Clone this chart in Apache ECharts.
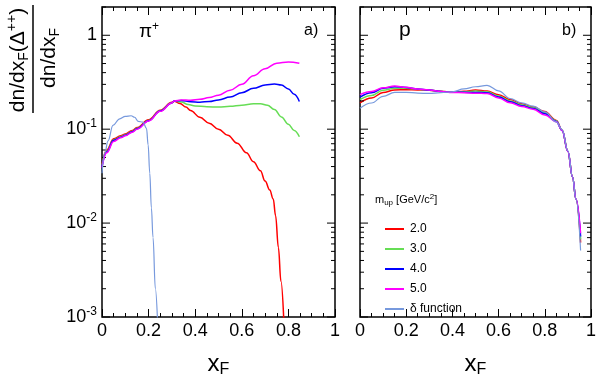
<!DOCTYPE html>
<html><head><meta charset="utf-8">
<script src="https://cdn.jsdelivr.net/npm/echarts@6/dist/echarts.min.js"></script>
<style>html,body{margin:0;padding:0;background:#fff}#c{width:599px;height:383px}</style>
</head><body><div id="c"></div>
<script>
// ---------- data ----------
const seriesNames = ['2.0', '3.0', '4.0', '5.0', 'δ function'];
const seriesColors = ['#ff0000', '#66dd55', '#0000ff', '#ff00ff', '#7799dd'];

// panel a) pi+
const piX_red = [0, 0.02, 0.05, 0.08, 0.1, 0.13, 0.15, 0.2, 0.25, 0.3, 0.31, 0.335, 0.36, 0.38, 0.42, 0.46, 0.5, 0.54, 0.58, 0.62, 0.65, 0.68, 0.7, 0.72, 0.735, 0.745, 0.757, 0.768, 0.78];
const piY_red = [0.042, 0.06, 0.079, 0.085, 0.089, 0.097, 0.104, 0.126, 0.159, 0.193, 0.198, 0.188, 0.172, 0.158, 0.134, 0.116, 0.1, 0.086, 0.071, 0.056, 0.045, 0.036, 0.028, 0.0225, 0.018, 0.012, 0.0055, 0.0024, 0.00095];
const piX_green = [0, 0.02, 0.05, 0.08, 0.1, 0.13, 0.15, 0.2, 0.25, 0.3, 0.31, 0.34, 0.37, 0.4, 0.45, 0.5, 0.55, 0.6, 0.65, 0.68, 0.71, 0.74, 0.77, 0.8, 0.825, 0.847];
const piY_green = [0.041, 0.058, 0.077, 0.083, 0.087, 0.095, 0.102, 0.124, 0.157, 0.191, 0.2, 0.195, 0.183, 0.177, 0.173, 0.172, 0.175, 0.18, 0.186, 0.187, 0.18, 0.162, 0.135, 0.113, 0.097, 0.083];
const piX_blue = [0, 0.02, 0.05, 0.08, 0.1, 0.13, 0.15, 0.2, 0.25, 0.3, 0.31, 0.34, 0.38, 0.42, 0.46, 0.5, 0.55, 0.6, 0.65, 0.7, 0.74, 0.77, 0.8, 0.825, 0.847];
const piY_blue = [0.04, 0.057, 0.076, 0.082, 0.086, 0.094, 0.101, 0.123, 0.156, 0.19, 0.2, 0.202, 0.196, 0.194, 0.197, 0.205, 0.22, 0.245, 0.272, 0.295, 0.302, 0.295, 0.268, 0.235, 0.197];
const piX_mag = [0, 0.02, 0.05, 0.08, 0.1, 0.13, 0.15, 0.2, 0.25, 0.3, 0.31, 0.34, 0.38, 0.42, 0.46, 0.5, 0.55, 0.6, 0.65, 0.7, 0.75, 0.8, 0.847];
const piY_mag = [0.039, 0.056, 0.074, 0.081, 0.085, 0.093, 0.1, 0.122, 0.155, 0.19, 0.2, 0.205, 0.203, 0.208, 0.217, 0.23, 0.26, 0.3, 0.37, 0.44, 0.505, 0.52, 0.503];
const piX_delta = [0, 0.012, 0.026, 0.047, 0.076, 0.1, 0.125, 0.14, 0.155, 0.176, 0.191, 0.198, 0.205, 0.212, 0.219, 0.229, 0.238];
const piY_delta = [0.034, 0.056, 0.075, 0.11, 0.129, 0.137, 0.139, 0.134, 0.121, 0.119, 0.102, 0.068, 0.034, 0.0145, 0.007, 0.002, 0.00095];

// panel b) p
const pX = [0, 0.05, 0.1, 0.15, 0.2, 0.25, 0.3, 0.35, 0.4, 0.45, 0.5, 0.55, 0.6, 0.65, 0.7, 0.75, 0.8, 0.85, 0.875, 0.9, 0.92, 0.935, 0.955];
const pY_red   = [0.191, 0.215, 0.246, 0.262, 0.263, 0.262, 0.26, 0.253, 0.249, 0.253, 0.262, 0.255, 0.233, 0.207, 0.187, 0.172, 0.154, 0.124, 0.098, 0.058, 0.031, 0.018, 0.0062];
const pY_green = [0.207, 0.229, 0.26, 0.272, 0.272, 0.266, 0.26, 0.252, 0.248, 0.25, 0.255, 0.25, 0.226, 0.2, 0.182, 0.169, 0.15, 0.123, 0.097, 0.058, 0.031, 0.018, 0.0067];
const pY_blue  = [0.22, 0.245, 0.272, 0.283, 0.278, 0.268, 0.261, 0.252, 0.247, 0.247, 0.246, 0.245, 0.22, 0.196, 0.178, 0.166, 0.146, 0.121, 0.097, 0.058, 0.031, 0.018, 0.0072];
const pY_mag   = [0.233, 0.252, 0.276, 0.288, 0.279, 0.268, 0.262, 0.252, 0.246, 0.245, 0.242, 0.24, 0.215, 0.191, 0.174, 0.163, 0.142, 0.12, 0.097, 0.058, 0.031, 0.018, 0.0078];
const pY_delta = [0.167, 0.19, 0.224, 0.246, 0.247, 0.242, 0.24, 0.245, 0.25, 0.268, 0.283, 0.293, 0.256, 0.212, 0.191, 0.176, 0.153, 0.119, 0.099, 0.059, 0.031, 0.018, 0.0051];

const xTickLabels = ['0', '0.2', '0.4', '0.6', '0.8', '1'];
const yMajorTicks = [0.001, 0.01, 0.1, 1];
const yMinorTicks = [0.002,0.003,0.004,0.005,0.006,0.007,0.008,0.009,0.02,0.03,0.04,0.05,0.06,0.07,0.08,0.09,0.2,0.3,0.4,0.5,0.6,0.7,0.8,0.9,2];

// ---------- chart ----------
const FONT = 'Liberation Sans, Arial, Helvetica, sans-serif';
const pair = (xs, ys) => xs.map((x, i) => [x, ys[i]]);
const panelA = [pair(piX_red, piY_red), pair(piX_green, piY_green), pair(piX_blue, piY_blue), pair(piX_mag, piY_mag), pair(piX_delta, piY_delta)];
const panelB = [pair(pX, pY_red), pair(pX, pY_green), pair(pX, pY_blue), pair(pX, pY_mag), pair(pX, pY_delta)];

const grids = [
  {left: 102, top: 7, width: 233, height: 322},
  {left: 360, top: 7, width: 231, height: 322}
];

function xAxisFor(gi, pos) {
  return {
    type: 'value', gridIndex: gi, position: pos, min: 0, max: 1, interval: 0.2,
    axisLine: {show: false},
    splitLine: {show: false},
    axisTick: {show: true, inside: true, length: 8, lineStyle: {color: '#000', width: 1}},
    minorTick: {show: true, splitNumber: 4, length: 4, lineStyle: {color: '#000', width: 1}},
    axisLabel: {
      show: pos === 'bottom', color: '#000', fontSize: 18, fontFamily: FONT, margin: 5,
      formatter: v => xTickLabels[Math.round(v / 0.2)]
    },
    name: pos === 'bottom' ? '{x|x}{s|F}' : '',
    nameLocation: 'middle', nameGap: 33,
    nameTextStyle: {
      color: '#000', fontFamily: FONT,
      rich: {
        x: {fontSize: 24, fontFamily: FONT, color: '#000', lineHeight: 28},
        s: {fontSize: 16, fontFamily: FONT, color: '#000', lineHeight: 16, verticalAlign: 'bottom'}
      }
    }
  };
}
function yAxisFor(gi, showLabels) {
  return {
    type: 'log', gridIndex: gi, min: 0.001, max: 2, logBase: 10,
    axisLine: {show: false}, splitLine: {show: false}, axisTick: {show: false},
    axisLabel: {
      show: showLabels, margin: 5, color: '#000', fontFamily: FONT,
      formatter: v => {
        const e = Math.log10(v), r = Math.round(e);
        if (Math.abs(e - r) > 1e-6) return '';
        if (r === 0) return '{b|1}';
        return '{b|10}{s|' + r + '}';
      },
      rich: {
        b: {fontSize: 18, fontFamily: FONT, color: '#000', lineHeight: 22},
        s: {fontSize: 12, fontFamily: FONT, color: '#000', lineHeight: 12, verticalAlign: 'top'}
      }
    }
  };
}
function tickSeries(gi, ticks, len) {
  return {
    type: 'custom', xAxisIndex: gi * 2, yAxisIndex: gi, silent: true, clip: false, z: 5,
    data: ticks.map(t => [0, t]),
    renderItem: (params, api) => {
      const v = api.value(1);
      const p0 = api.coord([0, v]);
      const p1 = api.coord([1, v]);
      const st = {stroke: '#000', lineWidth: 1};
      return {type: 'group', children: [
        {type: 'line', shape: {x1: p0[0], y1: p0[1], x2: p0[0] + len, y2: p0[1]}, style: st},
        {type: 'line', shape: {x1: p1[0], y1: p1[1], x2: p1[0] - len, y2: p1[1]}, style: st}
      ]};
    }
  };
}
const series = [];
[panelA, panelB].forEach((panel, gi) => {
  panel.forEach((d, i) => {
    series.push({
      type: 'line', name: seriesNames[i], xAxisIndex: gi * 2, yAxisIndex: gi,
      data: d, showSymbol: false, symbol: 'none', smooth: 0.4, smoothMonotone: 'x', clip: true,
      lineStyle: {color: seriesColors[i], width: i === 4 ? 1.2 : 1.5},
      itemStyle: {color: seriesColors[i]}, z: 3 + i
    });
  });
  series.push(tickSeries(gi, yMajorTicks, 8));
  series.push(tickSeries(gi, yMinorTicks, 4));
});

const txt = (x, y, text, rich, extra) => ({
  type: 'text', x: x, y: y, z: 100,
  style: Object.assign({text: text, rich: rich, fill: '#000', font: '16px ' + FONT, align: 'left', verticalAlign: 'middle'}, extra || {})
});

const chart = echarts.init(document.getElementById('c'), null, {renderer: 'canvas'});
chart.setOption({
  animation: false,
  backgroundColor: '#fff',
  grid: grids.map(g => Object.assign({show: true, borderColor: '#000', borderWidth: 1.5, backgroundColor: 'transparent'}, g)),
  xAxis: [xAxisFor(0, 'bottom'), xAxisFor(0, 'top'), xAxisFor(1, 'bottom'), xAxisFor(1, 'top')],
  yAxis: [yAxisFor(0, true), yAxisFor(1, false)],
  legend: {
    show: true, orient: 'vertical', left: 380, top: 217, itemGap: 6,
    itemWidth: 19, itemHeight: 2, icon: 'rect',
    data: seriesNames,
    textStyle: {fontSize: 12, fontFamily: FONT, color: '#000', lineHeight: 14, padding: [0, 0, 0, 1]},
    selectedMode: false
  },
  series: series,
  graphic: [
    // y-axis title (fraction)
    {type: 'text', x: 18, y: 60, rotation: Math.PI / 2, z: 100,
     style: {text: '{a|dn/dx}{s|F}{a|(Δ}{p|++}{a|)}', align: 'center', verticalAlign: 'middle', fill: '#000',
       rich: {
         a: {fontSize: 21, fontFamily: FONT, fill: '#000', lineHeight: 26},
         s: {fontSize: 14, fontFamily: FONT, fill: '#000', lineHeight: 14, verticalAlign: 'bottom'},
         p: {fontSize: 14, fontFamily: FONT, fill: '#000', lineHeight: 14, verticalAlign: 'top'}
       }}},
    {type: 'line', z: 100, shape: {x1: 33, y1: 5, x2: 33, y2: 113}, style: {stroke: '#000', lineWidth: 1.5}},
    {type: 'text', x: 49, y: 58, rotation: Math.PI / 2, z: 100,
     style: {text: '{a|dn/dx}{s|F}', align: 'center', verticalAlign: 'middle', fill: '#000',
       rich: {
         a: {fontSize: 21, fontFamily: FONT, fill: '#000', lineHeight: 26},
         s: {fontSize: 14, fontFamily: FONT, fill: '#000', lineHeight: 14, verticalAlign: 'bottom'}
       }}},
    // panel labels
    txt(139, 32, '{a|π}{p|+}', {
      a: {fontSize: 19, fontFamily: FONT, fill: '#000', lineHeight: 22},
      p: {fontSize: 12, fontFamily: FONT, fill: '#000', lineHeight: 12, verticalAlign: 'top'}
    }),
    txt(304, 31, 'a)', null, {font: '16px ' + FONT}),
    txt(399, 30, 'p', null, {font: '21px ' + FONT}),
    txt(562, 31, 'b)', null, {font: '16px ' + FONT}),
    // legend title
    txt(375, 200, '{a|m}{s|up}{a| [GeV/c}{p|2}{a|]}', {
      a: {fontSize: 11, fontFamily: FONT, fill: '#000', lineHeight: 14},
      s: {fontSize: 8, fontFamily: FONT, fill: '#000', lineHeight: 8, verticalAlign: 'bottom'},
      p: {fontSize: 8, fontFamily: FONT, fill: '#000', lineHeight: 8, verticalAlign: 'top'}
    })
  ]
});
</script></body></html>
